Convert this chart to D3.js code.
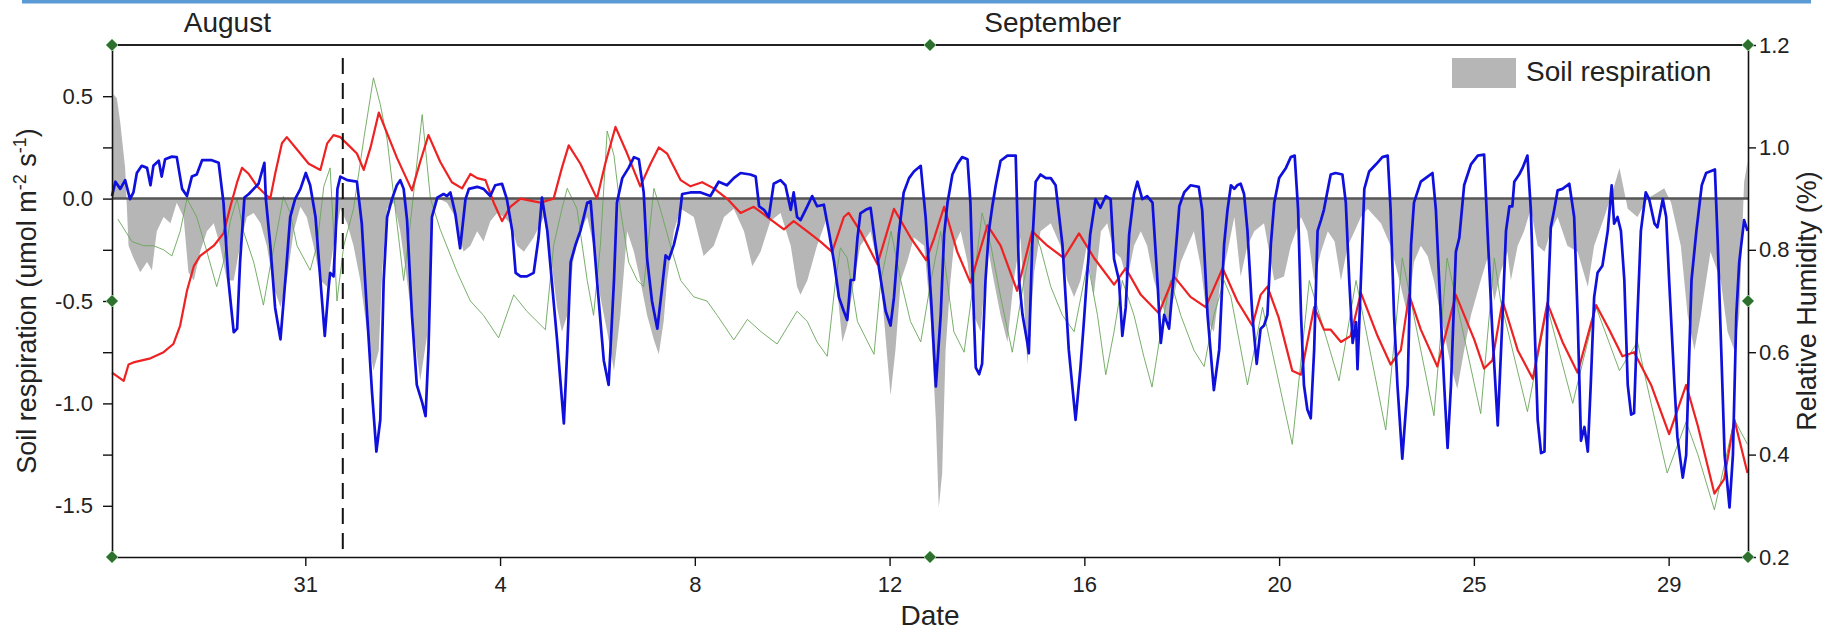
<!DOCTYPE html>
<html>
<head>
<meta charset="utf-8">
<script src="https://cdn.jsdelivr.net/npm/d3@7"></script>
<style>
  body { margin: 0; background: #fff; }
  svg text { font-family: "Liberation Sans", Arial, sans-serif; fill: #222; }
</style>
</head>
<body>
<svg id="chart"></svg>
<script>
// x values are days counted from 31 August
var dayTicks = [0, 4, 8, 12, 16, 20, 24, 28];
var dayTickLabels = ["31", "4", "8", "12", "16", "20", "25", "29"];
var leftTicks = [-1.5, -1.25, -1, -0.75, -0.5, -0.25, 0, 0.25, 0.5];
var rightTicks = [0.2, 0.4, 0.6, 0.8, 1.0, 1.2];
var monthNames = ["August", "September"];
var monthDays = [-1.6, 15.35];
var eventDay = 0.77;

// grey area, left axis (umol m-2 s-1)
var soilRespiration = [[-3.97,0.01],[-3.94,0.51],[-3.87,0.49],[-3.80,0.37],[-3.70,0.15],[-3.63,-0.23],[-3.53,-0.29],[-3.39,-0.36],[-3.25,-0.31],[-3.15,-0.35],[-3.05,-0.16],[-2.91,-0.09],[-2.77,-0.12],[-2.64,-0.02],[-2.50,-0.09],[-2.40,-0.36],[-2.29,-0.40],[-2.16,-0.26],[-2.02,-0.16],[-1.88,-0.12],[-1.75,-0.23],[-1.61,-0.40],[-1.47,-0.40],[-1.34,-0.23],[-1.20,-0.09],[-1.06,-0.07],[-0.92,-0.12],[-0.79,-0.23],[-0.65,-0.43],[-0.51,-0.53],[-0.38,-0.40],[-0.24,-0.16],[-0.10,-0.04],[0.03,-0.09],[0.17,-0.23],[0.31,-0.40],[0.45,-0.43],[0.58,-0.23],[0.72,-0.05],[0.86,-0.12],[0.99,-0.23],[1.13,-0.40],[1.27,-0.65],[1.40,-0.84],[1.51,-0.74],[1.58,-0.35],[1.68,-0.05],[1.82,-0.02],[1.95,-0.16],[2.09,-0.40],[2.23,-0.65],[2.36,-0.89],[2.50,-0.67],[2.60,-0.09],[2.74,0.0],[2.91,-0.02],[3.08,-0.09],[3.25,-0.26],[3.39,-0.23],[3.53,-0.16],[3.66,-0.21],[3.80,-0.11],[3.94,-0.07],[4.08,-0.09],[4.21,-0.12],[4.35,-0.23],[4.49,-0.26],[4.69,-0.19],[4.90,-0.09],[5.03,-0.26],[5.17,-0.53],[5.27,-0.65],[5.38,-0.57],[5.51,-0.29],[5.65,-0.16],[5.79,-0.09],[5.92,-0.23],[6.06,-0.48],[6.20,-0.65],[6.34,-0.84],[6.47,-0.57],[6.61,-0.16],[6.75,-0.26],[6.88,-0.40],[7.02,-0.57],[7.16,-0.69],[7.26,-0.76],[7.36,-0.60],[7.43,-0.40],[7.57,-0.16],[7.71,-0.05],[7.98,-0.09],[8.18,-0.28],[8.39,-0.23],[8.60,-0.09],[8.80,-0.05],[9.01,-0.16],[9.18,-0.33],[9.35,-0.26],[9.55,-0.11],[9.76,-0.07],[9.97,-0.23],[10.10,-0.43],[10.17,-0.47],[10.31,-0.40],[10.51,-0.23],[10.72,-0.09],[10.86,-0.29],[11.03,-0.70],[11.13,-0.62],[11.27,-0.40],[11.40,-0.23],[11.61,-0.16],[11.82,-0.40],[11.95,-0.77],[12.02,-0.96],[12.12,-0.74],[12.23,-0.40],[12.36,-0.31],[12.50,-0.19],[12.71,-0.23],[12.84,-0.57],[12.95,-1.08],[13.01,-1.51],[13.08,-1.34],[13.15,-0.74],[13.25,-0.40],[13.32,-0.23],[13.46,-0.16],[13.60,-0.31],[13.73,-0.57],[13.87,-0.65],[14.01,-0.23],[14.14,-0.40],[14.28,-0.57],[14.42,-0.70],[14.55,-0.40],[14.69,-0.19],[14.83,-0.81],[14.97,-0.36],[15.10,-0.16],[15.31,-0.12],[15.51,-0.23],[15.65,-0.40],[15.79,-0.48],[15.92,-0.40],[16.05,-0.23],[16.19,-0.48],[16.34,-0.16],[16.47,-0.12],[16.61,-0.26],[16.75,-0.29],[16.88,-0.40],[17.02,-0.23],[17.16,-0.16],[17.29,-0.23],[17.43,-0.40],[17.57,-0.50],[17.71,-0.60],[17.84,-0.48],[17.98,-0.31],[18.12,-0.23],[18.25,-0.16],[18.39,-0.33],[18.53,-0.60],[18.66,-0.65],[18.80,-0.40],[18.94,-0.26],[19.08,-0.09],[19.21,-0.38],[19.35,-0.23],[19.49,-0.16],[19.69,-0.12],[19.90,-0.40],[20.10,-0.38],[20.24,-0.23],[20.45,-0.09],[20.58,-0.16],[20.72,-0.40],[20.86,-0.26],[21.00,-0.16],[21.14,-0.21],[21.27,-0.40],[21.41,-0.23],[21.55,-0.16],[21.68,-0.09],[21.82,-0.05],[22.09,-0.12],[22.29,-0.23],[22.43,-0.36],[22.64,-0.57],[22.77,-0.31],[22.91,-0.23],[23.05,-0.28],[23.18,-0.40],[23.32,-0.57],[23.53,-0.82],[23.66,-0.93],[23.80,-0.74],[23.94,-0.57],[24.14,-0.40],[24.28,-0.29],[24.42,-0.50],[24.55,-0.36],[24.69,-0.26],[24.76,-0.40],[24.90,-0.23],[25.03,-0.16],[25.17,-0.05],[25.31,-0.23],[25.45,-0.26],[25.58,-0.16],[25.72,-0.09],[25.92,-0.23],[26.13,-0.26],[26.34,-0.43],[26.47,-0.23],[26.68,-0.09],[26.88,0.06],[26.99,0.15],[27.05,0.08],[27.16,-0.05],[27.36,-0.09],[27.57,0.0],[27.77,0.03],[27.91,0.05],[28.05,-0.02],[28.25,-0.23],[28.39,-0.57],[28.53,-0.74],[28.66,-0.57],[28.86,-0.26],[29.07,-0.40],[29.21,-0.65],[29.35,-0.74],[29.45,-0.57],[29.55,0.08],[29.62,0.18]];

// blue line, right axis (relative humidity)
var humidity = [[-3.97,0.905],[-3.90,0.933],[-3.80,0.919],[-3.70,0.936],[-3.60,0.899],[-3.53,0.912],[-3.46,0.950],[-3.36,0.964],[-3.25,0.960],[-3.18,0.926],[-3.12,0.964],[-3.01,0.974],[-2.95,0.943],[-2.88,0.977],[-2.74,0.982],[-2.64,0.981],[-2.53,0.919],[-2.43,0.905],[-2.33,0.943],[-2.23,0.947],[-2.12,0.975],[-1.92,0.975],[-1.78,0.970],[-1.68,0.892],[-1.58,0.741],[-1.47,0.639],[-1.40,0.646],[-1.34,0.776],[-1.25,0.902],[-1.16,0.909],[-1.06,0.919],[-0.96,0.929],[-0.89,0.953],[-0.84,0.970],[-0.81,0.899],[-0.72,0.810],[-0.62,0.687],[-0.51,0.625],[-0.41,0.741],[-0.31,0.864],[-0.21,0.899],[-0.10,0.919],[0.01,0.950],[0.10,0.926],[0.21,0.864],[0.31,0.741],[0.40,0.632],[0.48,0.728],[0.51,0.755],[0.58,0.748],[0.62,0.823],[0.66,0.919],[0.72,0.943],[0.86,0.936],[1.06,0.933],[1.16,0.851],[1.27,0.673],[1.37,0.522],[1.46,0.406],[1.54,0.468],[1.61,0.741],[1.68,0.864],[1.78,0.899],[1.88,0.926],[1.95,0.936],[2.02,0.919],[2.09,0.858],[2.19,0.673],[2.29,0.536],[2.40,0.502],[2.47,0.475],[2.53,0.605],[2.60,0.864],[2.71,0.902],[2.84,0.909],[2.91,0.905],[2.98,0.912],[3.08,0.871],[3.18,0.803],[3.29,0.899],[3.36,0.919],[3.53,0.923],[3.66,0.919],[3.80,0.905],[3.90,0.926],[4.04,0.929],[4.14,0.899],[4.25,0.837],[4.32,0.755],[4.42,0.748],[4.55,0.748],[4.69,0.755],[4.79,0.823],[4.86,0.902],[4.97,0.837],[5.17,0.625],[5.31,0.461],[5.38,0.605],[5.45,0.776],[5.55,0.810],[5.65,0.837],[5.79,0.892],[5.86,0.895],[5.99,0.741],[6.13,0.584],[6.23,0.536],[6.34,0.741],[6.40,0.892],[6.51,0.940],[6.64,0.960],[6.75,0.981],[6.85,0.977],[6.95,0.912],[7.02,0.782],[7.12,0.700],[7.23,0.646],[7.33,0.728],[7.40,0.789],[7.47,0.782],[7.57,0.810],[7.67,0.851],[7.74,0.909],[7.91,0.912],[8.12,0.912],[8.32,0.905],[8.49,0.933],[8.66,0.926],[8.80,0.940],[8.94,0.950],[9.14,0.947],[9.25,0.943],[9.32,0.885],[9.42,0.878],[9.52,0.864],[9.62,0.929],[9.76,0.936],[9.86,0.926],[9.97,0.878],[10.03,0.912],[10.10,0.864],[10.17,0.858],[10.31,0.885],[10.41,0.905],[10.51,0.885],[10.65,0.888],[10.75,0.837],[10.86,0.776],[10.96,0.707],[11.06,0.680],[11.13,0.663],[11.20,0.741],[11.27,0.741],[11.34,0.823],[11.40,0.871],[11.51,0.878],[11.61,0.882],[11.71,0.810],[11.82,0.741],[11.92,0.680],[12.02,0.652],[12.09,0.707],[12.19,0.830],[12.29,0.912],[12.40,0.940],[12.50,0.953],[12.64,0.964],[12.74,0.864],[12.85,0.707],[12.95,0.533],[13.05,0.673],[13.12,0.830],[13.19,0.892],[13.29,0.947],[13.39,0.967],[13.49,0.981],[13.60,0.977],[13.66,0.892],[13.73,0.673],[13.77,0.570],[13.84,0.557],[13.90,0.577],[13.97,0.741],[14.04,0.837],[14.11,0.885],[14.18,0.926],[14.28,0.974],[14.42,0.984],[14.59,0.984],[14.66,0.741],[14.73,0.673],[14.83,0.618],[14.86,0.598],[14.93,0.810],[15.00,0.933],[15.10,0.947],[15.21,0.940],[15.31,0.940],[15.41,0.926],[15.55,0.810],[15.68,0.605],[15.82,0.468],[15.92,0.570],[15.99,0.659],[16.05,0.741],[16.12,0.830],[16.23,0.899],[16.33,0.882],[16.44,0.905],[16.54,0.899],[16.61,0.782],[16.71,0.741],[16.78,0.632],[16.85,0.687],[16.92,0.830],[17.02,0.909],[17.09,0.933],[17.19,0.899],[17.29,0.905],[17.40,0.892],[17.50,0.741],[17.57,0.618],[17.64,0.673],[17.74,0.646],[17.84,0.755],[17.95,0.885],[18.05,0.912],[18.18,0.926],[18.35,0.923],[18.42,0.878],[18.53,0.673],[18.66,0.526],[18.77,0.605],[18.87,0.810],[18.94,0.878],[19.01,0.926],[19.08,0.919],[19.14,0.926],[19.21,0.929],[19.28,0.909],[19.35,0.837],[19.45,0.673],[19.54,0.577],[19.62,0.646],[19.69,0.652],[19.76,0.673],[19.83,0.810],[19.90,0.892],[20.00,0.940],[20.14,0.960],[20.24,0.981],[20.32,0.984],[20.39,0.878],[20.45,0.673],[20.51,0.536],[20.58,0.488],[20.65,0.471],[20.72,0.605],[20.79,0.837],[20.86,0.858],[20.92,0.878],[21.03,0.933],[21.06,0.947],[21.16,0.950],[21.30,0.947],[21.37,0.892],[21.44,0.741],[21.51,0.618],[21.58,0.659],[21.61,0.567],[21.68,0.741],[21.75,0.919],[21.85,0.953],[21.99,0.967],[22.12,0.981],[22.23,0.984],[22.29,0.878],[22.36,0.673],[22.43,0.536],[22.53,0.392],[22.64,0.536],[22.71,0.810],[22.77,0.892],[22.91,0.933],[23.05,0.943],[23.15,0.950],[23.22,0.878],[23.32,0.673],[23.39,0.536],[23.46,0.413],[23.53,0.536],[23.63,0.796],[23.70,0.823],[23.80,0.926],[23.94,0.967],[24.08,0.984],[24.21,0.986],[24.28,0.837],[24.38,0.639],[24.49,0.457],[24.59,0.673],[24.66,0.837],[24.73,0.885],[24.79,0.885],[24.83,0.933],[24.93,0.947],[25.00,0.960],[25.10,0.984],[25.17,0.878],[25.24,0.673],[25.31,0.468],[25.38,0.403],[25.45,0.406],[25.51,0.673],[25.58,0.844],[25.65,0.878],[25.72,0.916],[25.82,0.919],[25.96,0.929],[26.06,0.864],[26.13,0.673],[26.20,0.427],[26.27,0.454],[26.34,0.406],[26.40,0.536],[26.47,0.707],[26.54,0.755],[26.64,0.769],[26.75,0.837],[26.83,0.926],[26.88,0.851],[26.95,0.864],[27.02,0.837],[27.09,0.741],[27.16,0.536],[27.23,0.478],[27.29,0.481],[27.36,0.673],[27.43,0.837],[27.53,0.912],[27.60,0.899],[27.71,0.851],[27.77,0.844],[27.88,0.899],[27.95,0.864],[28.01,0.741],[28.12,0.536],[28.18,0.434],[28.29,0.355],[28.36,0.399],[28.47,0.741],[28.57,0.837],[28.68,0.926],[28.77,0.950],[28.95,0.957],[29.01,0.810],[29.08,0.605],[29.15,0.399],[29.25,0.297],[29.32,0.399],[29.39,0.673],[29.45,0.776],[29.55,0.858],[29.62,0.837]];

// red line, left axis
var redTrace = [[-3.97,-0.85],[-3.73,-0.89],[-3.63,-0.81],[-3.53,-0.80],[-3.18,-0.78],[-2.91,-0.75],[-2.71,-0.71],[-2.57,-0.62],[-2.43,-0.45],[-2.29,-0.33],[-2.16,-0.28],[-1.88,-0.23],[-1.68,-0.17],[-1.54,-0.04],[-1.40,0.08],[-1.30,0.15],[-1.16,0.12],[-0.99,0.06],[-0.86,0.03],[-0.72,0.0],[-0.62,0.12],[-0.48,0.27],[-0.38,0.30],[-0.17,0.24],[0.07,0.17],[0.31,0.14],[0.45,0.27],[0.58,0.31],[0.72,0.30],[0.89,0.26],[1.06,0.22],[1.20,0.14],[1.34,0.25],[1.51,0.42],[1.88,0.20],[2.19,0.04],[2.36,0.18],[2.53,0.31],[2.77,0.18],[3.01,0.08],[3.22,0.05],[3.39,0.12],[3.53,0.10],[3.70,0.09],[3.87,-0.02],[4.04,-0.11],[4.21,-0.04],[4.42,0.0],[4.62,-0.01],[4.83,-0.02],[5.10,0.0],[5.27,0.15],[5.41,0.26],[5.65,0.17],[5.99,0.0],[6.16,0.17],[6.37,0.35],[6.61,0.22],[6.88,0.06],[7.09,0.17],[7.26,0.25],[7.43,0.22],[7.71,0.09],[7.91,0.06],[8.15,0.08],[8.39,0.05],[8.66,0.0],[8.94,-0.07],[9.21,-0.04],[9.49,-0.09],[9.83,-0.15],[10.03,-0.11],[10.31,-0.16],[10.58,-0.21],[10.82,-0.26],[11.06,-0.09],[11.16,-0.07],[11.40,-0.16],[11.75,-0.32],[12.09,-0.05],[12.43,-0.19],[12.75,-0.30],[12.92,-0.19],[13.12,-0.04],[13.39,-0.26],[13.66,-0.41],[14.01,-0.13],[14.28,-0.23],[14.62,-0.45],[14.93,-0.16],[15.24,-0.23],[15.58,-0.29],[15.89,-0.17],[16.20,-0.29],[16.61,-0.42],[16.85,-0.34],[17.16,-0.47],[17.53,-0.56],[17.84,-0.38],[18.18,-0.48],[18.49,-0.53],[18.84,-0.34],[19.14,-0.50],[19.45,-0.62],[19.62,-0.47],[19.76,-0.43],[19.99,-0.58],[20.27,-0.84],[20.45,-0.86],[20.58,-0.70],[20.72,-0.53],[20.92,-0.64],[21.06,-0.64],[21.27,-0.70],[21.47,-0.67],[21.68,-0.46],[22.02,-0.67],[22.29,-0.81],[22.50,-0.74],[22.67,-0.47],[22.91,-0.64],[23.25,-0.82],[23.63,-0.47],[24.01,-0.69],[24.21,-0.83],[24.38,-0.79],[24.59,-0.50],[24.90,-0.74],[25.21,-0.88],[25.51,-0.51],[25.82,-0.70],[26.13,-0.85],[26.51,-0.52],[26.78,-0.64],[27.05,-0.77],[27.29,-0.75],[27.64,-0.91],[28.01,-1.15],[28.36,-0.91],[28.60,-1.11],[28.94,-1.44],[29.14,-1.37],[29.35,-1.08],[29.62,-1.34]];

// thin green line, left axis
var greenTrace = [[-3.85,-0.10],[-3.56,-0.21],[-3.32,-0.23],[-3.12,-0.23],[-2.91,-0.25],[-2.74,-0.28],[-2.57,-0.16],[-2.43,0.0],[-2.23,-0.09],[-2.02,-0.26],[-1.82,-0.43],[-1.68,-0.31],[-1.54,-0.11],[-1.40,0.0],[-1.27,-0.16],[-1.06,-0.31],[-0.86,-0.52],[-0.72,-0.33],[-0.58,-0.16],[-0.45,0.01],[-0.31,-0.07],[-0.17,-0.23],[0.10,-0.35],[0.24,-0.23],[0.38,0.06],[0.51,0.15],[0.58,-0.16],[0.65,-0.50],[0.79,-0.23],[0.99,-0.05],[1.20,0.29],[1.40,0.59],[1.54,0.46],[1.68,0.29],[2.02,-0.40],[2.19,-0.05],[2.40,0.41],[2.57,0.0],[2.77,-0.15],[3.12,-0.36],[3.39,-0.50],[3.66,-0.57],[3.97,-0.68],[4.28,-0.47],[4.55,-0.55],[4.93,-0.64],[5.10,-0.23],[5.27,-0.05],[5.38,0.05],[5.58,-0.05],[5.79,-0.40],[5.92,-0.57],[6.06,-0.23],[6.20,0.33],[6.34,0.21],[6.47,-0.05],[6.64,-0.31],[6.82,-0.40],[6.95,-0.43],[7.16,0.05],[7.29,-0.05],[7.50,-0.23],[7.71,-0.40],[7.98,-0.48],[8.25,-0.50],[8.46,-0.57],[8.80,-0.69],[9.08,-0.59],[9.36,-0.65],[9.69,-0.71],[10.10,-0.55],[10.31,-0.60],[10.51,-0.70],[10.72,-0.77],[10.89,-0.40],[10.99,-0.24],[11.13,-0.29],[11.34,-0.60],[11.55,-0.70],[11.68,-0.76],[11.82,-0.40],[12.03,-0.16],[12.23,-0.40],[12.43,-0.60],[12.64,-0.70],[12.85,-0.40],[13.05,-0.16],[13.32,-0.65],[13.53,-0.75],[13.73,-0.40],[13.90,-0.07],[14.08,-0.23],[14.28,-0.48],[14.52,-0.75],[14.76,-0.40],[14.97,-0.16],[15.10,-0.24],[15.31,-0.43],[15.55,-0.57],[15.79,-0.65],[16.07,-0.31],[16.27,-0.57],[16.44,-0.86],[16.61,-0.65],[16.78,-0.40],[17.02,-0.57],[17.22,-0.77],[17.39,-0.92],[17.57,-0.65],[17.77,-0.40],[17.98,-0.57],[18.25,-0.74],[18.46,-0.82],[18.66,-0.57],[18.87,-0.40],[19.01,-0.48],[19.35,-0.91],[19.66,-0.53],[20.27,-1.20],[20.62,-0.40],[21.23,-0.89],[21.58,-0.40],[22.19,-1.13],[22.53,-0.29],[23.18,-1.06],[23.45,-0.29],[24.14,-1.05],[24.42,-0.29],[24.55,-0.50],[25.10,-1.04],[25.51,-0.53],[26.03,-1.00],[26.51,-0.53],[26.99,-0.84],[27.36,-0.70],[27.64,-1.00],[27.97,-1.34],[28.36,-1.09],[28.60,-1.25],[28.94,-1.52],[29.35,-1.08],[29.62,-1.20]];

var width = 1830, height = 634;
var margin = { top: 45, right: 82, bottom: 77, left: 112 };
var w = width - margin.left - margin.right;
var h = height - margin.top - margin.bottom;

var svg = d3.select("#chart")
	.attr("width", width)
	.attr("height", height);

// blue strip along the top of the page
svg.append("rect")
	.attr("x", 22).attr("y", 0)
	.attr("width", 1789).attr("height", 3.5)
	.attr("fill", "#5b9bd5");

var xScale = d3.scaleLinear().domain([-3.97, 29.63]).range([0, w]);
var yLeft = d3.scaleLinear().domain([-1.75, 0.75]).range([h, 0]);
var yRight = d3.scaleLinear().domain([0.2, 1.2]).range([h, 0]);

var g = svg.append("g")
	.attr("transform", "translate(" + margin.left + "," + margin.top + ")");

// soil respiration area
var area = d3.area()
	.x(function(d){ return xScale(d[0]); })
	.y0(yLeft(0))
	.y1(function(d){ return yLeft(d[1]); });

g.append("path")
	.datum(soilRespiration)
	.attr("d", area)
	.attr("fill", "#b6b6b6");

var lineLeft = d3.line()
	.x(function(d){ return xScale(d[0]); })
	.y(function(d){ return yLeft(d[1]); });

var lineRight = d3.line()
	.x(function(d){ return xScale(d[0]); })
	.y(function(d){ return yRight(d[1]); });

g.append("path")
	.datum(greenTrace)
	.attr("d", lineLeft)
	.attr("fill", "none")
	.attr("stroke", "#6aa65a")
	.attr("stroke-width", 0.9);

// zero line
g.append("line")
	.attr("x1", 0).attr("x2", w)
	.attr("y1", yLeft(0)).attr("y2", yLeft(0))
	.attr("stroke", "#555")
	.attr("stroke-width", 2.5);

g.append("path")
	.datum(redTrace)
	.attr("d", lineLeft)
	.attr("fill", "none")
	.attr("stroke", "#ee2222")
	.attr("stroke-width", 2.2)
	.attr("stroke-linejoin", "round");

g.append("path")
	.datum(humidity)
	.attr("d", lineRight)
	.attr("fill", "none")
	.attr("stroke", "#1010dd")
	.attr("stroke-width", 2.7)
	.attr("stroke-linejoin", "round");

// dashed marker line
g.append("line")
	.attr("x1", xScale(eventDay)).attr("x2", xScale(eventDay))
	.attr("y1", 13).attr("y2", h)
	.attr("stroke", "#111")
	.attr("stroke-width", 2)
	.attr("stroke-dasharray", "16,9");

// axes
var fontFamily = "Liberation Sans, Arial, sans-serif";

var xAxisG = g.append("g")
	.attr("transform", "translate(0," + h + ")")
	.call(d3.axisBottom(xScale)
		.tickValues(dayTicks)
		.tickFormat(function(d, i){ return dayTickLabels[i]; })
		.tickSize(9).tickPadding(10).tickSizeOuter(0));

var yAxisG = g.append("g")
	.call(d3.axisLeft(yLeft)
		.tickValues(leftTicks)
		.tickFormat(function(d){ return Math.abs(d * 2 - Math.round(d * 2)) < 1e-9 ? d.toFixed(1) : ""; })
		.tickSize(9).tickPadding(10).tickSizeOuter(0));

var yRightG = g.append("g")
	.attr("transform", "translate(" + w + ",0)")
	.call(d3.axisRight(yRight)
		.tickValues(rightTicks)
		.tickFormat(function(d){ return d.toFixed(1); })
		.tickSize(8).tickPadding(3).tickSizeOuter(0));

[xAxisG, yAxisG, yRightG].forEach(function(a){
	a.attr("font-size", 22).attr("font-family", fontFamily).attr("color", "#111");
	a.select(".domain").attr("stroke-width", 1.6);
	a.selectAll(".tick line").attr("stroke-width", 1.4);
});

// top frame line
g.append("line")
	.attr("x1", 0).attr("x2", w)
	.attr("y1", 0).attr("y2", 0)
	.attr("stroke", "#222")
	.attr("stroke-width", 1.8);

// green handle diamonds on the frame
var handles = [[0, 0], [w / 2, 0], [w, 0], [0, h / 2], [w, h / 2], [0, h], [w / 2, h], [w, h]];
g.selectAll(".handle")
	.data(handles)
	.enter()
	.append("path")
	.attr("class", "handle")
	.attr("transform", function(d){ return "translate(" + d[0] + "," + d[1] + ")"; })
	.attr("d", "M0,-6L6,0L0,6L-6,0Z")
	.attr("fill", "#2f6f2f")
	.attr("stroke", "#7fbf7f")
	.attr("stroke-width", 1);

// month labels
svg.selectAll(".month")
	.data(monthNames)
	.enter()
	.append("text")
	.attr("class", "month")
	.attr("x", function(d, i){ return margin.left + xScale(monthDays[i]); })
	.attr("y", 32)
	.attr("text-anchor", "middle")
	.attr("font-size", 28)
	.text(function(d){ return d; });

// legend
svg.append("rect")
	.attr("x", 1452).attr("y", 58)
	.attr("width", 64).attr("height", 30)
	.attr("fill", "#b6b6b6");
svg.append("text")
	.attr("x", 1526).attr("y", 81)
	.attr("font-size", 28)
	.text("Soil respiration");

// axis titles
svg.append("text")
	.attr("x", margin.left + w / 2)
	.attr("y", 625)
	.attr("text-anchor", "middle")
	.attr("font-size", 28)
	.text("Date");

var leftTitle = svg.append("text")
	.attr("transform", "translate(36," + (margin.top + h / 2) + ") rotate(-90)")
	.attr("text-anchor", "middle")
	.attr("font-size", 27);
leftTitle.append("tspan").text("Soil respiration (umol m");
leftTitle.append("tspan").attr("dy", -10).attr("font-size", 18).text("-2");
leftTitle.append("tspan").attr("dy", 10).text(" s");
leftTitle.append("tspan").attr("dy", -10).attr("font-size", 18).text("-1");
leftTitle.append("tspan").attr("dy", 10).text(")");

svg.append("text")
	.attr("transform", "translate(1816," + (margin.top + h / 2) + ") rotate(-90)")
	.attr("text-anchor", "middle")
	.attr("font-size", 27)
	.text("Relative Humidity (%)");
</script>
</body>
</html>
